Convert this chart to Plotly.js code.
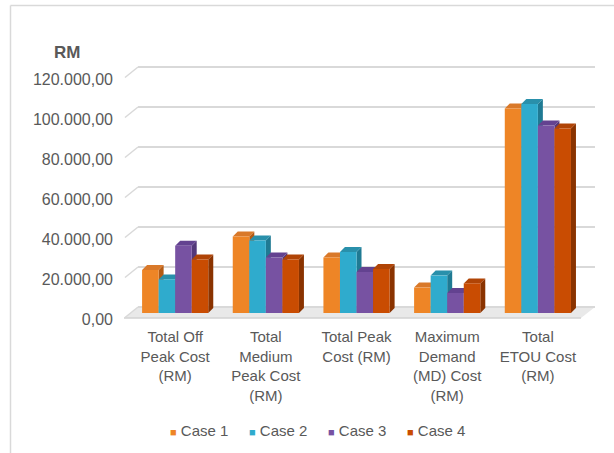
<!DOCTYPE html>
<html>
<head>
<meta charset="utf-8">
<script src="https://cdn.plot.ly/plotly-3.0.1.min.js"></script>
<style>
  html, body { margin: 0; padding: 0; background: #ffffff; }
  #chart { width: 614px; height: 453px; }
</style>
</head>
<body>
<div id="chart"></div>
<script>
// Cost categories (x axis)
const categories = [
  "Total Off<br>Peak Cost<br>(RM)",
  "Total<br>Medium<br>Peak Cost<br>(RM)",
  "Total Peak<br>Cost (RM)",
  "Maximum<br>Demand<br>(MD) Cost<br>(RM)",
  "Total<br>ETOU Cost<br>(RM)"
];

// Cost per case, in RM
const case1 = [21500, 38200, 27800, 12700, 102300];
const case2 = [16800, 36200, 30500, 18700, 104500];
const case3 = [33600, 27700, 20500, 10000, 93700];
const case4 = [26800, 26800, 22000, 14800, 92300];

const seriesNames = ["Case 1", "Case 2", "Case 3", "Case 4"];
const seriesValues = [case1, case2, case3, case4];

// Axis ticks
const yTicks = [0, 20000, 40000, 60000, 80000, 100000, 120000];

// Styling
const frontColors = ["#EE8526", "#2FABCD", "#7752A2", "#C94C02"];
const sideColors  = ["#B35A14", "#1F7A93", "#53387A", "#8A3300"];
const topColors   = ["#D9792A", "#2990AB", "#634290", "#B04406"];
const textColor = "#595959";
const gridColor = "#d9d9d9";

// Plot geometry (px)
const W = 614, H = 453;
const M = { l: 138, r: 19, t: 63, b: 140 };
const plotW = W - M.l - M.r, plotH = H - M.t - M.b;
const px2x = p => (p - M.l) / plotW;
const px2y = p => (H - M.b - p) / plotH;

const bargap = 0.27;
const groupW = 1 - bargap;
const barW = groupW / seriesValues.length;
const depthX = 0.055;   // extrusion depth along x (category units)
const depthY = 2500;    // extrusion depth along y (value units)

const traces = seriesValues.map((vals, s) => ({
  type: "bar",
  name: seriesNames[s],
  x: categories,
  y: vals,
  marker: { color: frontColors[s], line: { width: 0 } },
  showlegend: false,
  hoverinfo: "skip"
}));

const shapes = [];

// Chart frame (top and left edges)
shapes.push({ type: "line", xref: "paper", yref: "paper",
  x0: px2x(10.5), x1: px2x(614), y0: px2y(5.5), y1: px2y(5.5),
  line: { color: gridColor, width: 1.5 }, layer: "below" });
shapes.push({ type: "line", xref: "paper", yref: "paper",
  x0: px2x(10.5), x1: px2x(10.5), y0: px2y(5.5), y1: px2y(453),
  line: { color: gridColor, width: 1.5 }, layer: "below" });

// Floor of the 3D plot
shapes.push({ type: "path", xref: "paper", yref: "paper", layer: "below",
  path: `M ${px2x(124)} ${px2y(318)} L ${px2x(138)} ${px2y(307)} L ${px2x(595)} ${px2y(307)} L ${px2x(581)} ${px2y(318)} Z`,
  fillcolor: "#e9e9e9", line: { width: 0 } });
shapes.push({ type: "line", xref: "paper", yref: "paper", layer: "below",
  x0: px2x(124), x1: px2x(581), y0: px2y(318), y1: px2y(318),
  line: { color: "#d2d2d2", width: 1.5 } });

// Slanted wall edges at the left of each gridline
yTicks.forEach(v => {
  shapes.push({ type: "line", xref: "paper", yref: "paper", layer: "below",
    x0: px2x(125), x1: px2x(138),
    y0: px2y(H - M.b - v / 125000 * plotH + 4.5), y1: px2y(H - M.b - v / 125000 * plotH - 6),
    line: { color: gridColor, width: 1.5 } });
});

// Side and top faces of each column, computed from the values
seriesValues.forEach((vals, s) => {
  vals.forEach((v, k) => {
    const left = k - groupW / 2 + s * barW;
    const right = left + barW;
    shapes.push({ type: "path", xref: "x", yref: "y", layer: "between",
      path: `M ${right} 0 L ${right + depthX} ${depthY} L ${right + depthX} ${v + depthY} L ${right} ${v} Z`,
      fillcolor: sideColors[s], line: { width: 0 } });
    shapes.push({ type: "path", xref: "x", yref: "y", layer: "between",
      path: `M ${left} ${v} L ${left + depthX} ${v + depthY} L ${right + depthX} ${v + depthY} L ${right} ${v} Z`,
      fillcolor: topColors[s], line: { width: 0 } });
  });
});

// Compact legend row under the chart: colour key + series name
const legendLeft = [168, 247, 326, 405];
const annotations = seriesNames.map((name, s) => ({
  text: `<span style="color:${frontColors[s]};font-size:11px">■</span> ${name}`,
  xref: "paper", yref: "paper",
  x: px2x(legendLeft[s]), y: px2y(430), xanchor: "left", yanchor: "middle",
  showarrow: false, font: { size: 15, color: textColor }
}));

annotations.push({
  text: "<b>RM</b>", xref: "paper", yref: "paper",
  x: px2x(67), y: px2y(53), xanchor: "center", yanchor: "middle",
  showarrow: false, font: { size: 17, color: textColor }
});

const layout = {
  width: W, height: H,
  margin: M,
  paper_bgcolor: "#ffffff",
  plot_bgcolor: "rgba(0,0,0,0)",
  separators: ",.",
  barmode: "group",
  bargap: bargap,
  bargroupgap: 0,
  font: { family: "Liberation Sans, Arial, sans-serif", color: textColor },
  xaxis: {
    type: "category",
    range: [-0.41, 4.63],
    showgrid: false, zeroline: false, showline: false,
    ticks: "", ticklabelstandoff: 13,
    tickfont: { size: 15, color: textColor },
    fixedrange: true
  },
  yaxis: {
    range: [0, 125000],
    tickvals: yTicks,
    tickformat: ",.2f",
    showgrid: false, zeroline: false, showline: false,
    ticks: "", ticklabelstandoff: 24, ticklabelshift: 6,
    tickfont: { size: 16, color: textColor },
    fixedrange: true
  },
  yaxis2: {
    overlaying: "y",
    range: [-3000, 122000],
    tickvals: yTicks,
    showticklabels: false,
    showgrid: true, gridcolor: gridColor, gridwidth: 1.5,
    zeroline: false, showline: false, ticks: "",
    fixedrange: true
  },
  annotations: annotations,
  shapes: shapes,
  showlegend: false
};

// Invisible trace so the gridline axis is drawn
traces.push({ type: "scatter", x: [categories[0]], y: [0], yaxis: "y2",
  mode: "markers", marker: { opacity: 0 }, showlegend: false, hoverinfo: "skip" });

Plotly.newPlot("chart", traces, layout, { displayModeBar: false, staticPlot: true });
</script>
</body>
</html>
